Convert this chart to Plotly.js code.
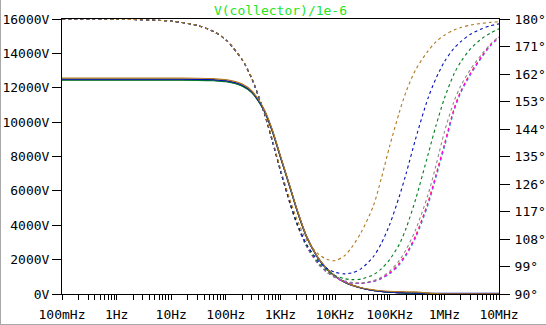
<!DOCTYPE html>
<html>
<head>
<meta charset="utf-8">
<script src="https://cdn.plot.ly/plotly-3.0.1.min.js"></script>
<style>
html,body{margin:0;padding:0;background:#fff;}
#chart{width:545px;height:324px;border-left:1px solid #a8a8a8;border-bottom:1px solid #a8a8a8;}
</style>
</head>
<body>
<div id="chart"></div>
<script>
// Frequency grid (Hz)
const freq = [0.1,1,10,30,60,100,200,300,500,700,1000,1500,2000,3000,5000,7000,1e4,1.5e4,2e4,3e4,5e4,7e4,1e5,1.5e5,2e5,3e5,5e5,7e5,1e6,1.5e6,2e6,3e6,5e6,7e6,1e7];

// Magnitude series (V, left axis)
const magBrown = [12560,12560,12559,12552,12527,12470,12210,11810,10760,9600,8020,6230,4940,3360,2060,1485,1041,700,532,366,239,189,157,137,129,123,60,25,12,8,6,4,3,2,2];
const magBlue  = [12500,12500,12499,12492,12467,12410,12152,11756,10708,9555,7983,6200,4900,3345,2043,1474,1035,691,521,349,214,157,112,80,66,53,46,43,42,41,41,41,41,41,41];
const magGreen = [12440,12440,12439,12432,12407,12350,12095,11700,10660,9510,7945,6170,4880,3330,2040,1471,1034,690,520,347,211,152,106,72,56,41,29,25,23.6,22.3,21.7,21.3,21.1,21,21];
const magOther = [12470,12470,12469,12462,12437,12380,12125,11730,10685,9535,7966,6180,4890,3332,2040,1471,1034,690,519,347,210,150,105,70,53,37,24,19,16,14,13,12.6,12.4,12.3,12.3];

// Phase series (degrees, right axis)
const phBrown   = [180,179.93,179.3,177.9,175.9,173.3,166.7,160.6,149.7,141,131,120.7,114.5,107.6,103,101.4,100.9,102.6,105.2,110.2,118.8,127.8,138.5,149.5,156.3,163.5,169.5,172.5,174.7,176.4,177.2,178,178.6,178.9,179.1];
const phBlue    = [180,179.93,179.3,177.9,175.9,173.2,166.6,160.4,149.4,140.5,130.4,119.8,113.2,106.3,100.7,98.4,97.1,96.6,96.9,98.3,102.2,106.5,112.8,122,129.5,141,154,160.5,166,170.4,172.6,175,176.9,177.8,178.4];
const phGreen   = [180,179.93,179.3,177.9,175.9,173.2,166.6,160.4,149.4,140.4,130.3,119.6,113,105.9,100.1,97.7,96,95,94.7,94.9,96.3,98.2,101.3,106.3,111.6,121.2,135.5,145,154,162,166,170.2,173.8,175.4,176.8];
const phGray    = [180,179.93,179.3,177.9,175.9,173.2,166.6,160.4,149.4,140.4,130.2,119.5,112.9,105.7,99.8,97.3,95.5,94.3,93.8,93.6,94.4,95.5,97.5,101,104.6,111.2,122.4,132,143,153,158.2,163.5,168.8,171.8,174.3];
const phMagenta = [180,179.93,179.3,177.9,175.9,173.2,166.6,160.4,149.4,140.4,130.2,119.5,112.9,105.6,99.7,97.2,95.4,94.1,93.6,93.5,94.1,95.1,96.8,99.8,102.9,108.9,119.5,128.5,138.6,150.3,156.2,162,168,171.4,174];
const phCyan    = [180,179.93,179.3,177.9,175.9,173.2,166.6,160.4,149.4,140.4,130.2,119.5,112.9,105.6,99.7,97.2,95.4,94.1,93.6,93.5,94,95,96.6,99.5,102.6,108.5,119,128,138,149.8,155.8,161.7,167.8,171.2,173.9];
const phRed     = [180,179.93,179.3,177.9,175.9,173.2,166.6,160.4,149.4,140.4,130.2,119.5,112.9,105.6,99.7,97.2,95.4,94.1,93.6,93.5,94.2,95.2,97,100.1,103.2,109.3,120,129,139,150.6,156.4,162.3,168.2,171.6,174.1];

// Tick labels
const decadeVals = [0.1,1,10,100,1e3,1e4,1e5,1e6,1e7];
const decadeLabels = ["100mHz","1Hz","10Hz","100Hz","1KHz","10KHz","100KHz","1MHz","10MHz"];
const titleText = "V(collector)/1e-6";

const C = {brown:'#b07a20', blue:'#0010b8', green:'#008020', gray:'#8a8a8a', magenta:'#ff00ff', cyan:'#00c4c4', red:'#ff2020'};

// all x ticks (decades + minors)
const xtv = [], xtt = [];
for (let i = 0; i < decadeVals.length; i++) {
  const d = decadeVals[i];
  xtv.push(d); xtt.push(decadeLabels[i]);
  if (i < decadeVals.length - 1) for (let m = 2; m <= 9; m++) { xtv.push(d*m); xtt.push(''); }
}

function mag(y, c){ return {x:freq, y:y, type:'scatter', mode:'lines', yaxis:'y', line:{color:c, width:1.2, shape:'spline', smoothing:0.8}, hoverinfo:'skip'}; }
function ph(y, c){ return {x:freq, y:y, type:'scatter', mode:'lines', yaxis:'y2', line:{color:c, width:1.1, dash:'3px,3px', shape:'spline', smoothing:0.8}, hoverinfo:'skip'}; }

const data = [
  mag(magOther, C.red), mag(magOther, C.cyan), mag(magOther, C.magenta), mag(magOther, C.gray),
  mag(magGreen, C.green), mag(magBlue, C.blue), mag(magBrown, C.brown),
  ph(phRed, C.red), ph(phCyan, C.cyan), ph(phMagenta, C.magenta), ph(phGray, C.gray),
  ph(phGreen, C.green), ph(phBlue, C.blue), ph(phBrown, C.brown)
];

const tf = {family:'DejaVu Sans Mono, monospace', size:13, color:'#000'};
const layout = {
  width:545, height:324,
  margin:{l:61, r:47, t:19, b:30, pad:0},
  paper_bgcolor:'#fff', plot_bgcolor:'#fff',
  showlegend:false,
  title:{text:titleText, x:0.5, xref:'paper', xanchor:'center', y:0.968, yref:'container', yanchor:'middle', font:{family:'DejaVu Sans Mono, monospace', size:13, color:'#22e622'}},
  xaxis:{type:'log', range:[-1,7], tickvals:xtv, ticktext:xtt, ticks:'outside', ticklen:5, tickwidth:1, tickcolor:'#000', ticklabelstandoff:3,
         showline:true, linecolor:'#000', linewidth:1, mirror:true, showgrid:false, zeroline:false, tickfont:tf},
  yaxis:{range:[0,16000], tick0:0, dtick:2000, ticksuffix:'V', tickformat:'d', ticks:'outside', ticklen:9, tickcolor:'#000',
         showline:true, linecolor:'#000', linewidth:1, showgrid:false, zeroline:false, tickfont:tf},
  yaxis2:{range:[90,180], tick0:90, dtick:9, ticksuffix:'°', overlaying:'y', side:'right', ticks:'outside', ticklen:10, tickcolor:'#000', ticklabelstandoff:2,
          showline:true, linecolor:'#000', linewidth:1, showgrid:false, zeroline:false, tickfont:tf}
};
Plotly.newPlot('chart', data, layout, {staticPlot:true, displayModeBar:false});
</script>
</body>
</html>
